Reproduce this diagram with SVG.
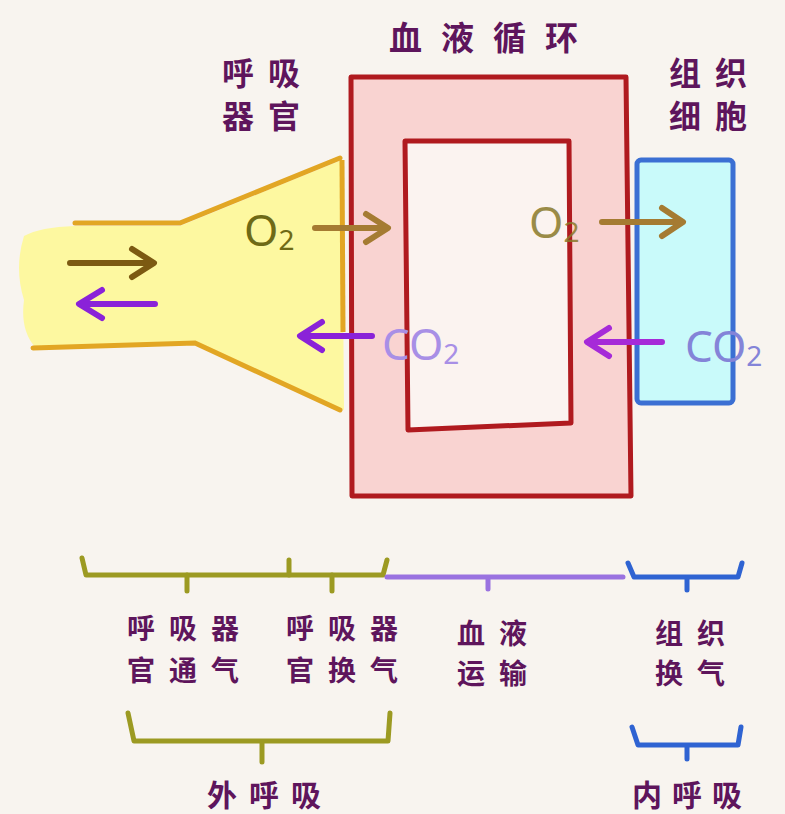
<svg xmlns="http://www.w3.org/2000/svg" width="785" height="814" viewBox="0 0 785 814">
<style>
.cjk{font-family:"Noto Sans CJK SC","Noto Sans CJK TC",sans-serif;fill:#5e155c;font-weight:bold;}
.chem{font-family:"Noto Sans","DejaVu Sans",sans-serif;}
.arr{fill:none;stroke-width:6;stroke-linecap:round;stroke-linejoin:round;}
.brown{stroke:#7c5a12;}
.o2{stroke:#a57b32;}
.purple{stroke:#8a22d8;}
.br{fill:none;stroke-width:5;stroke-linecap:round;stroke-linejoin:round;}
</style>
<rect width="785" height="814" fill="#f8f4ef"/>

<g id="respiratory-organ">
  <path d="M24,236 Q40,227 75,226 L180,226 L342,160 L344,410 L195,345 L35,347 Q20,330 24,300 Q14,268 24,236 Z" fill="#fdf8a0"/>
  <path d="M75,223 L180,223 L340,158" fill="none" stroke="#e2a624" stroke-width="5" stroke-linecap="round"/>
  <path d="M33,348 L195,343 L340,410" fill="none" stroke="#e2a624" stroke-width="5" stroke-linecap="round"/>
  <path d="M342,160 L343,332" fill="none" stroke="#e2a624" stroke-width="5"/>
  <text class="cjk" x="268" y="85" font-size="32" text-anchor="middle" letter-spacing="14">呼吸</text>
  <text class="cjk" x="268" y="128" font-size="32" text-anchor="middle" letter-spacing="14">器官</text>
</g>

<g id="blood-circulation">
  <path d="M351,77 L626,77 L631,496 L352,496 Z" fill="#f9d3d1" stroke="#b01a1f" stroke-width="5" stroke-linejoin="round"/>
  <path d="M405,141 L569,141 L571,423 L408,430 Z" fill="#fbf3f0" stroke="#b01a1f" stroke-width="5" stroke-linejoin="round"/>
  <text class="cjk" x="493" y="50" font-size="33" text-anchor="middle" letter-spacing="19">血液循环</text>
</g>

<g id="tissue-cells">
  <rect x="637" y="160" width="96" height="243" rx="4" fill="#c9fafa" stroke="#3b6fd3" stroke-width="5"/>
  <text class="cjk" x="715" y="85" font-size="32" text-anchor="middle" letter-spacing="14">组织</text>
  <text class="cjk" x="715" y="128" font-size="32" text-anchor="middle" letter-spacing="14">细胞</text>
</g>

<g id="gas-labels">
  <text class="chem" x="244" y="246" font-size="44" fill="#6e6a16">O<tspan font-size="28" dy="4">2</tspan></text>
  <text class="chem" x="529" y="238" font-size="44" fill="#8a7a2a" opacity="0.85">O<tspan font-size="28" dy="4">2</tspan></text>
  <text class="chem" x="382" y="360" font-size="44" fill="#a88fe6">CO<tspan font-size="28" dy="4">2</tspan></text>
  <text class="chem" x="685" y="362" font-size="44" fill="#8484d8">CO<tspan font-size="28" dy="4">2</tspan></text>
</g>

<g id="connectors">
  <path class="arr brown" d="M70,263 L153,263 M132,249 L154,263 L132,277"/>
  <path class="arr purple" d="M155,304 L80,304 M102,290 L79,304 L102,318"/>
  <path class="arr o2" d="M315,228 L386,228 M366,214 L388,228 L366,242"/>
  <path class="arr o2" d="M602,222 L681,222 M662,208 L683,222 L662,236"/>
  <path class="arr purple" d="M372,336 L302,336 M322,322 L300,336 L322,350"/>
  <path class="arr purple" d="M662,342 L589,342 M609,328 L587,342 L609,356" style="stroke:#a62ad8"/>
</g>

<g id="brackets">
  <path class="br" d="M82,558 L86,575 L383,575 L387,560" stroke="#9c9a22"/>
  <path class="br" d="M187,575 L187,591 M289,560 L289,575 M332,575 L332,591" stroke="#9c9a22"/>
  <path class="br" d="M387,577 L623,577 M488,577 L488,589" stroke="#9a72e0"/>
  <path class="br" d="M628,563 L634,577 L738,577 L742,563 M687,577 L687,590" stroke="#2f63d2"/>
  <path class="br" d="M128,713 L134,741 L388,741 L390,713 M262,741 L262,762" stroke="#9c9a22" stroke-width="6"/>
  <path class="br" d="M632,727 L638,745 L738,745 L741,727 M687,745 L687,759" stroke="#2f63d2" stroke-width="6"/>
</g>

<g id="labels">
  <text class="cjk" x="190" y="639" font-size="28" text-anchor="middle" letter-spacing="14">呼吸器</text>
  <text class="cjk" x="190" y="681" font-size="28" text-anchor="middle" letter-spacing="14">官通气</text>
  <text class="cjk" x="349" y="639" font-size="28" text-anchor="middle" letter-spacing="14">呼吸器</text>
  <text class="cjk" x="349" y="681" font-size="28" text-anchor="middle" letter-spacing="14">官换气</text>
  <text class="cjk" x="499" y="644" font-size="28" text-anchor="middle" letter-spacing="14">血液</text>
  <text class="cjk" x="697" y="644" font-size="28" text-anchor="middle" letter-spacing="14">组织</text>
  <text class="cjk" x="499" y="684" font-size="28" text-anchor="middle" letter-spacing="14">运输</text>
  <text class="cjk" x="697" y="684" font-size="28" text-anchor="middle" letter-spacing="14">换气</text>
  <text class="cjk" x="270" y="806" font-size="30" text-anchor="middle" letter-spacing="12">外呼吸</text>
  <text class="cjk" x="692" y="806" font-size="30" text-anchor="middle" letter-spacing="10">内呼吸</text>
</g>
</svg>
